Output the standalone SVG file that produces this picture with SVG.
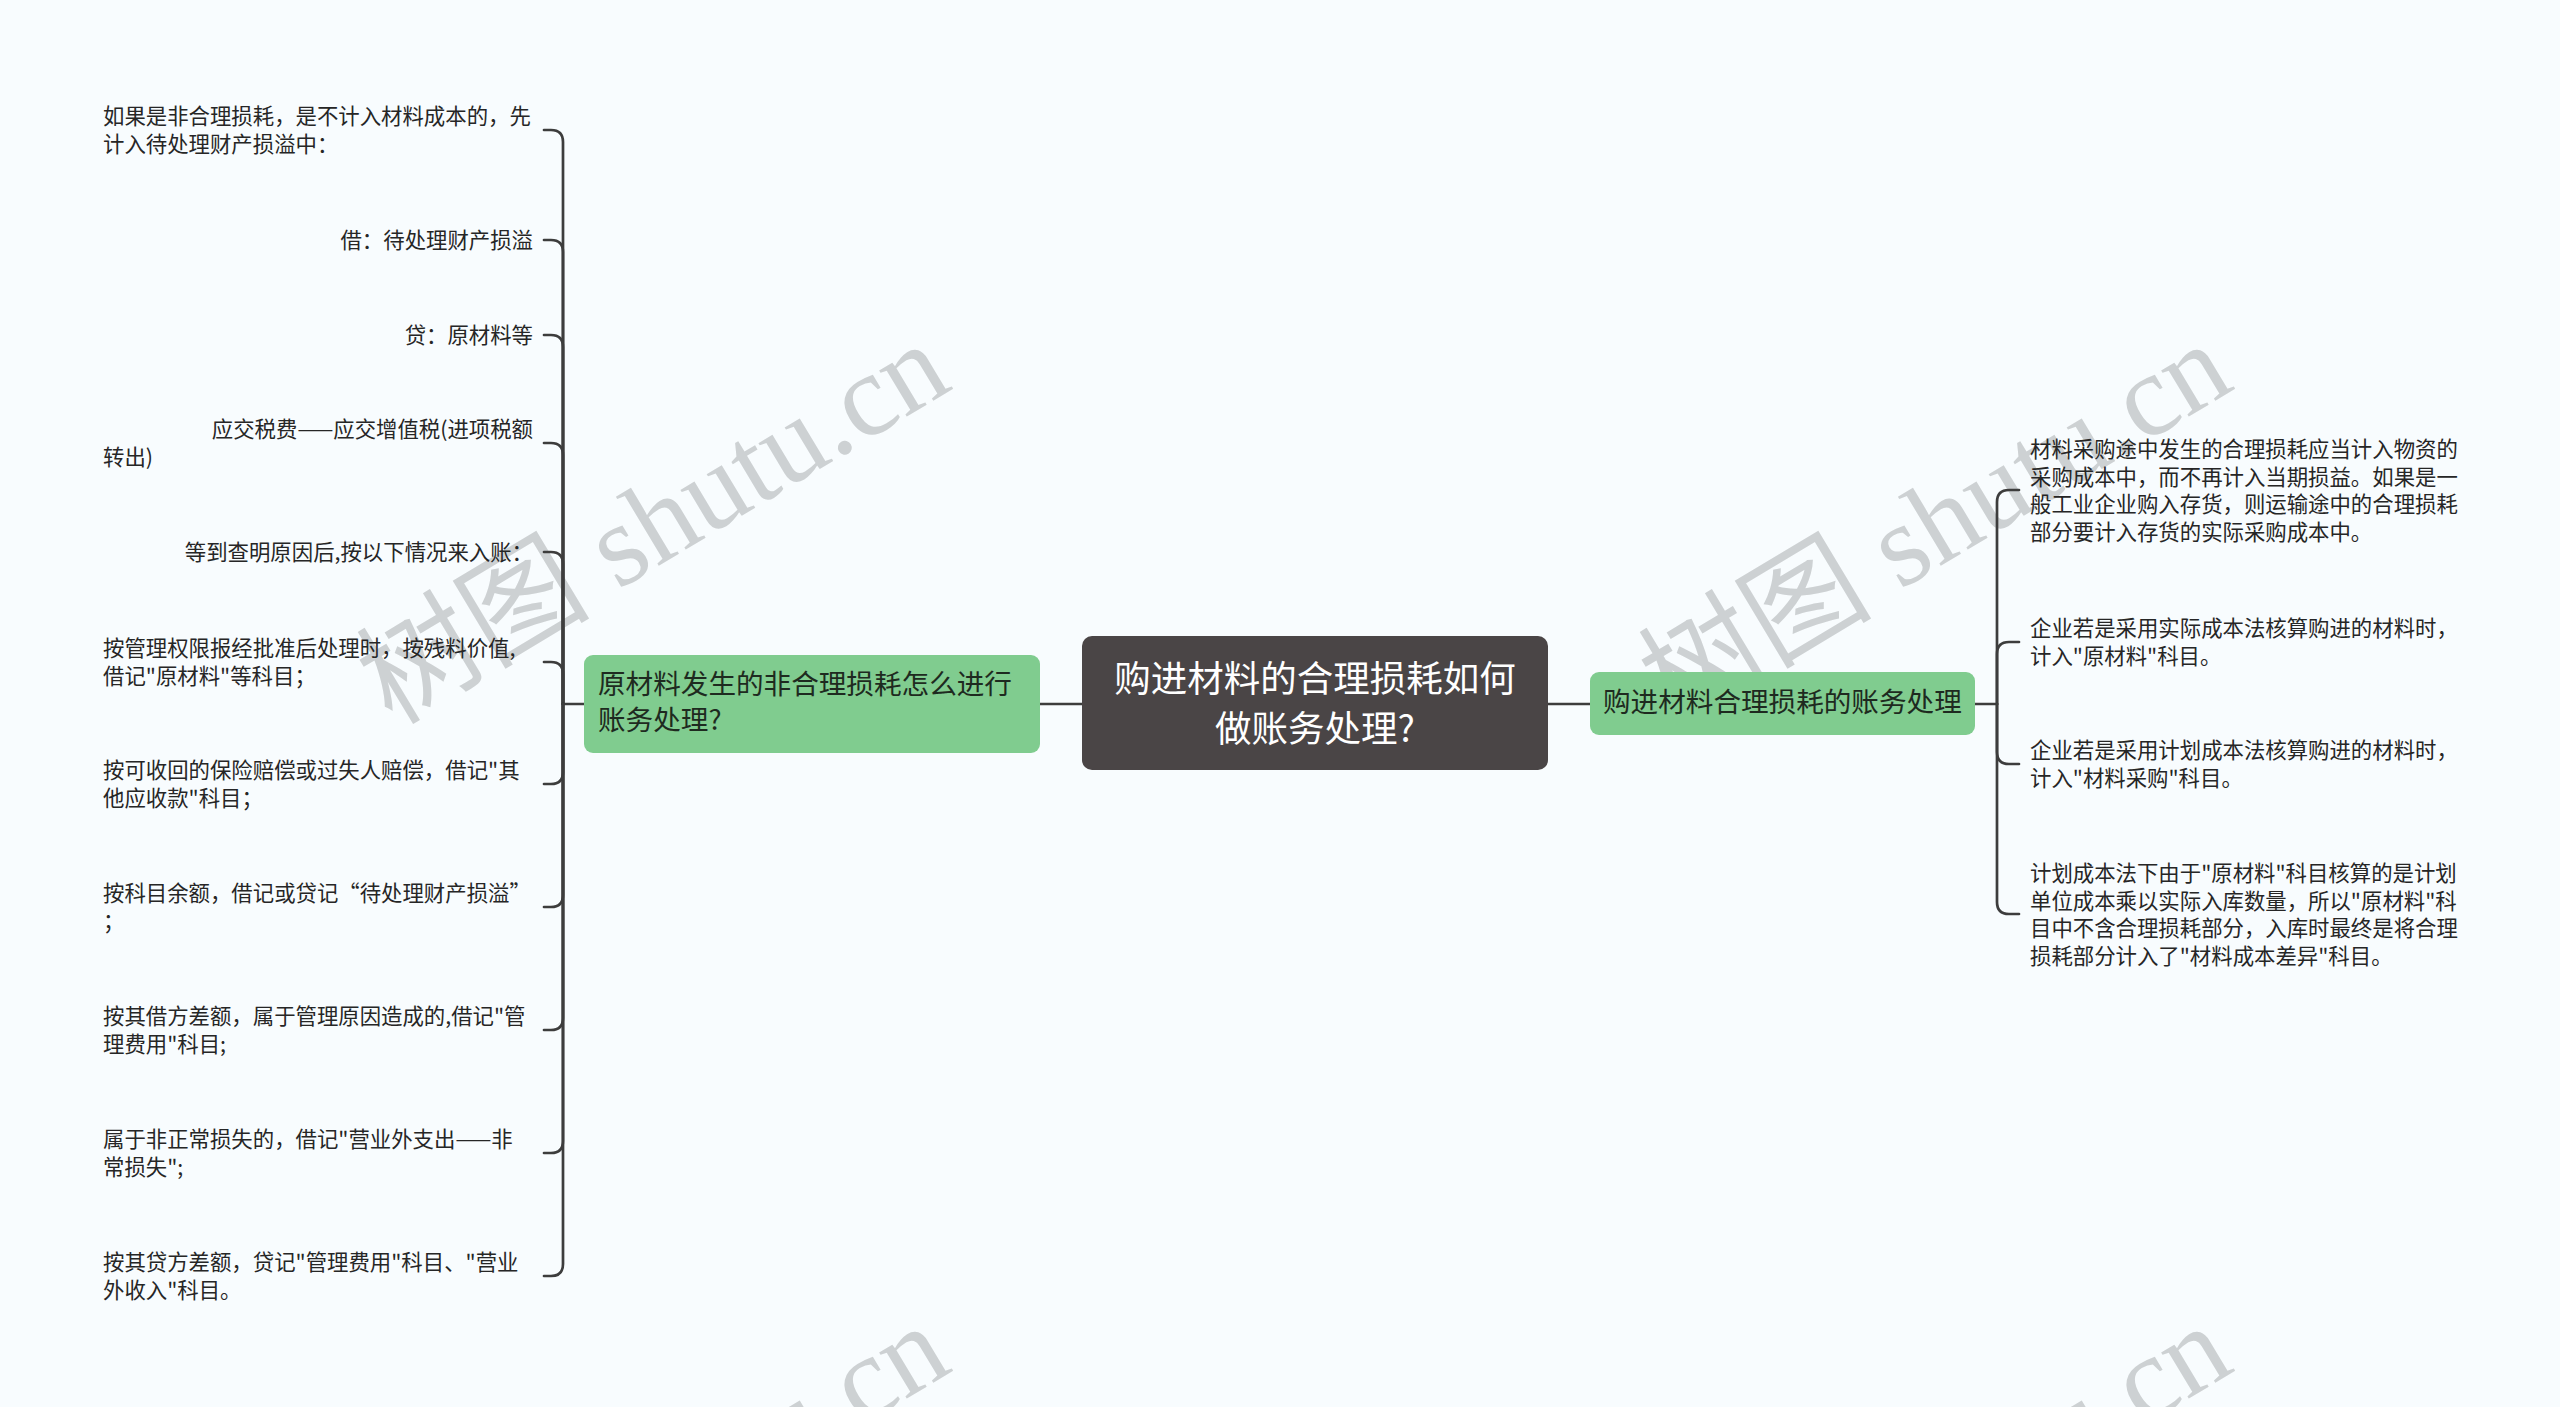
<svg xmlns="http://www.w3.org/2000/svg" width="2560" height="1407" viewBox="0 0 2560 1407">
<defs>
<style>
.bg{fill:#f8fcfe}
.wm{font-family:"Liberation Serif","Noto Sans CJK SC",serif;font-size:117px;fill:#cdd1d3}
.leaf{font-family:"Noto Sans CJK SC","Noto Sans",sans-serif;font-size:21.4px;fill:#262626}
.sub{font-family:"Noto Sans CJK SC","Noto Sans",sans-serif;font-size:27.6px;fill:#1e2a20}
.root{font-family:"Noto Sans CJK SC","Noto Sans",sans-serif;font-size:36.5px;fill:#ffffff}
.green{fill:#80cc8f}
.dark{fill:#4a4546}
.ln{fill:none;stroke:#3d3d3d;stroke-width:2.7;stroke-linecap:round}
</style>
</defs>
<rect class="bg" x="0" y="0" width="2560" height="1407"/>
<g id="watermarks">
<text class="wm" transform="translate(392,726) rotate(-31)">树图 shutu.cn</text>
<text class="wm" transform="translate(1674,726) rotate(-31)">树图 shutu.cn</text>
<text class="wm" transform="translate(392,1708) rotate(-31)">树图 shutu.cn</text>
<text class="wm" transform="translate(1674,1708) rotate(-31)">树图 shutu.cn</text>
</g>
<g id="connectors">
<path class="ln" d="M1040 704 H1082"/>
<path class="ln" d="M1548 704 H1590"/>
<path class="ln" d="M563 704 H584"/>
<path class="ln" d="M1975 704 H1997"/>
<path class="ln" d="M563 704 V142 Q563 130 551 130 H544"/>
<path class="ln" d="M563 704 V252 Q563 240 551 240 H544"/>
<path class="ln" d="M563 704 V347 Q563 335 551 335 H544"/>
<path class="ln" d="M563 704 V455 Q563 443 551 443 H544"/>
<path class="ln" d="M563 704 V564 Q563 552 551 552 H544"/>
<path class="ln" d="M563 704 V674 Q563 662 551 662 H544"/>
<path class="ln" d="M563 704 V772 Q563 784 551 784 H544"/>
<path class="ln" d="M563 704 V895 Q563 907 551 907 H544"/>
<path class="ln" d="M563 704 V1018 Q563 1030 551 1030 H544"/>
<path class="ln" d="M563 704 V1141 Q563 1153 551 1153 H544"/>
<path class="ln" d="M563 704 V1264 Q563 1276 551 1276 H544"/>
<path class="ln" d="M1997 704 V502 Q1997 490 2009 490 H2019"/>
<path class="ln" d="M1997 704 V654 Q1997 642 2009 642 H2019"/>
<path class="ln" d="M1997 704 V752 Q1997 764 2009 764 H2019"/>
<path class="ln" d="M1997 704 V902 Q1997 914 2009 914 H2019"/>
</g>
<g id="root">
<rect class="dark" x="1082" y="636" width="466" height="134" rx="10"/>
<text class="root" x="1315" y="692" text-anchor="middle">购进材料的合理损耗如何</text>
<text class="root" x="1315" y="742" text-anchor="middle">做账务处理?</text>
</g>
<g id="left-branch">
<rect class="green" x="584" y="655" width="456" height="98" rx="9"/>
<text class="sub" x="598" y="694">原材料发生的非合理损耗怎么进行</text>
<text class="sub" x="598" y="730">账务处理?</text>
</g>
<g id="right-branch">
<rect class="green" x="1590" y="672" width="385" height="63" rx="9"/>
<text class="sub" x="1603" y="712">购进材料合理损耗的账务处理</text>
</g>
<g id="left-leaf-1">
<text class="leaf" x="103" y="124">如果是非合理损耗，是不计入材料成本的，先</text>
<text class="leaf" x="103" y="152">计入待处理财产损溢中：</text>
</g>
<g id="left-leaf-2"><text class="leaf" x="533" y="248" text-anchor="end">借：待处理财产损溢</text></g>
<g id="left-leaf-3"><text class="leaf" x="533" y="343" text-anchor="end">贷：原材料等</text></g>
<g id="left-leaf-4">
<text class="leaf" x="533" y="437" text-anchor="end">应交税费——应交增值税(进项税额</text>
<text class="leaf" x="103" y="465">转出)</text>
</g>
<g id="left-leaf-5"><text class="leaf" x="533" y="560" text-anchor="end">等到查明原因后,按以下情况来入账：</text></g>
<g id="left-leaf-6">
<text class="leaf" x="103" y="656">按管理权限报经批准后处理时，按残料价值,</text>
<text class="leaf" x="103" y="684">借记"原材料"等科目；</text>
</g>
<g id="left-leaf-7">
<text class="leaf" x="103" y="778">按可收回的保险赔偿或过失人赔偿，借记"其</text>
<text class="leaf" x="103" y="806">他应收款"科目；</text>
</g>
<g id="left-leaf-8">
<text class="leaf" x="103" y="901">按科目余额，借记或贷记“待处理财产损溢”</text>
<text class="leaf" x="103" y="929">；</text>
</g>
<g id="left-leaf-9">
<text class="leaf" x="103" y="1024">按其借方差额，属于管理原因造成的,借记"管</text>
<text class="leaf" x="103" y="1052">理费用"科目;</text>
</g>
<g id="left-leaf-10">
<text class="leaf" x="103" y="1147">属于非正常损失的，借记"营业外支出——非</text>
<text class="leaf" x="103" y="1175">常损失";</text>
</g>
<g id="left-leaf-11">
<text class="leaf" x="103" y="1270">按其贷方差额，贷记"管理费用"科目、"营业</text>
<text class="leaf" x="103" y="1298">外收入"科目。</text>
</g>
<g id="right-leaf-1">
<text class="leaf" x="2030" y="457">材料采购途中发生的合理损耗应当计入物资的</text>
<text class="leaf" x="2030" y="485">采购成本中，而不再计入当期损益。如果是一</text>
<text class="leaf" x="2030" y="512">般工业企业购入存货，则运输途中的合理损耗</text>
<text class="leaf" x="2030" y="540">部分要计入存货的实际采购成本中。</text>
</g>
<g id="right-leaf-2">
<text class="leaf" x="2030" y="636">企业若是采用实际成本法核算购进的材料时，</text>
<text class="leaf" x="2030" y="664">计入"原材料"科目。</text>
</g>
<g id="right-leaf-3">
<text class="leaf" x="2030" y="758">企业若是采用计划成本法核算购进的材料时，</text>
<text class="leaf" x="2030" y="786">计入"材料采购"科目。</text>
</g>
<g id="right-leaf-4">
<text class="leaf" x="2030" y="881">计划成本法下由于"原材料"科目核算的是计划</text>
<text class="leaf" x="2030" y="909">单位成本乘以实际入库数量，所以"原材料"科</text>
<text class="leaf" x="2030" y="936">目中不含合理损耗部分，入库时最终是将合理</text>
<text class="leaf" x="2030" y="964">损耗部分计入了"材料成本差异"科目。</text>
</g>
</svg>
